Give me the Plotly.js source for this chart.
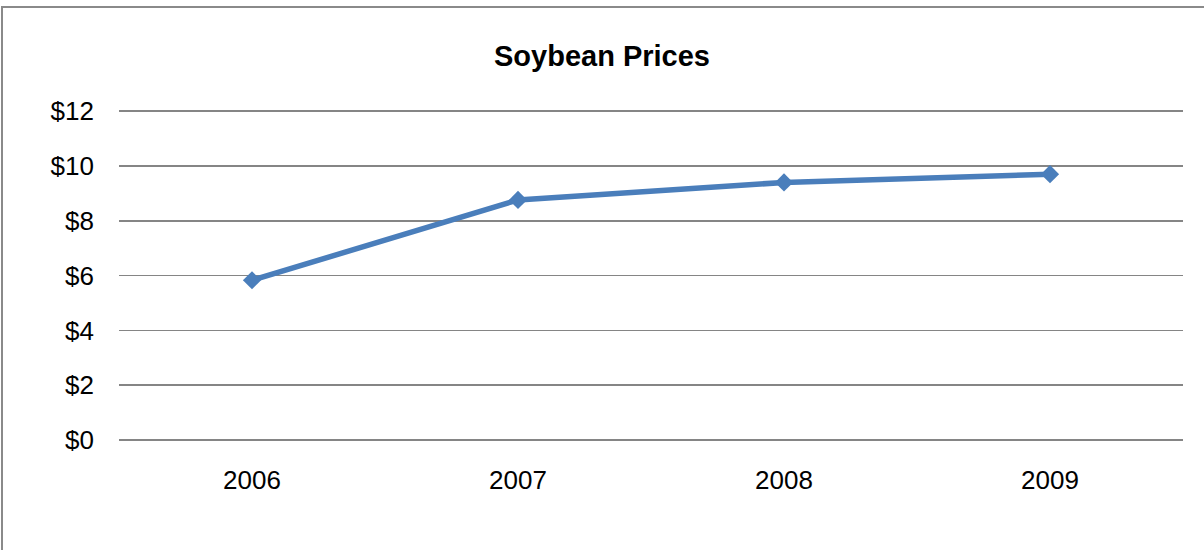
<!DOCTYPE html>
<html>
<head>
<meta charset="utf-8">
<script src="https://cdn.plot.ly/plotly-3.0.1.min.js"></script>
<style>
  html, body { margin: 0; padding: 0; background: #ffffff; overflow: hidden; }
  #wrap { position: relative; width: 1204px; height: 550px; }
  #chart { width: 1204px; height: 550px; }
  #frame { position: absolute; left: 1px; top: 6px; width: 1400px; height: 800px;
           border: 2px solid #8a8a8a; pointer-events: none; box-sizing: border-box; }
</style>
</head>
<body>
<div id="wrap">
  <div id="chart"></div>
  <div id="frame"></div>
</div>
<script>
const years = ["2006", "2007", "2008", "2009"];
const prices = [5.83, 8.76, 9.40, 9.70];
const yTickVals = [0, 2, 4, 6, 8, 10, 12];
const yTickText = ["$0", "$2", "$4", "$6", "$8", "$10", "$12"];

const trace = {
  x: years,
  y: prices,
  type: "scatter",
  mode: "lines+markers",
  line: { color: "#4a7ebb", width: 5.5 },
  marker: { symbol: "diamond", size: 14, color: "#4a7ebb" },
  hoverinfo: "x+y"
};

const layout = {
  width: 1204,
  height: 550,
  paper_bgcolor: "rgba(0,0,0,0)",
  plot_bgcolor: "rgba(0,0,0,0)",
  margin: { l: 119, r: 21, t: 109, b: 110 },
  showlegend: false,
  title: {
    text: "<b>Soybean Prices</b>",
    font: { family: "Liberation Sans, Arial, sans-serif", size: 29, color: "#000000" },
    x: 0.5, xanchor: "center",
    y: 1 - 56 / 550, yanchor: "middle", yref: "container"
  },
  xaxis: {
    type: "category",
    range: [-0.5, 3.5],
    showgrid: false,
    zeroline: false,
    showline: false,
    ticks: "",
    ticklabelstandoff: 22,
    tickfont: { family: "Liberation Sans, Arial, sans-serif", size: 26, color: "#000000" }
  },
  yaxis: {
    range: [0, 12.08],
    tickvals: yTickVals,
    ticktext: yTickText,
    showgrid: true,
    gridcolor: "#858585",
    gridwidth: 1.6,
    zeroline: true,
    zerolinecolor: "#858585",
    zerolinewidth: 1.6,
    showline: false,
    ticks: "",
    ticklabelstandoff: 24,
    tickfont: { family: "Liberation Sans, Arial, sans-serif", size: 26, color: "#000000" }
  }
};

Plotly.newPlot("chart", [trace], layout, { displayModeBar: false, staticPlot: true });
</script>
</body>
</html>
